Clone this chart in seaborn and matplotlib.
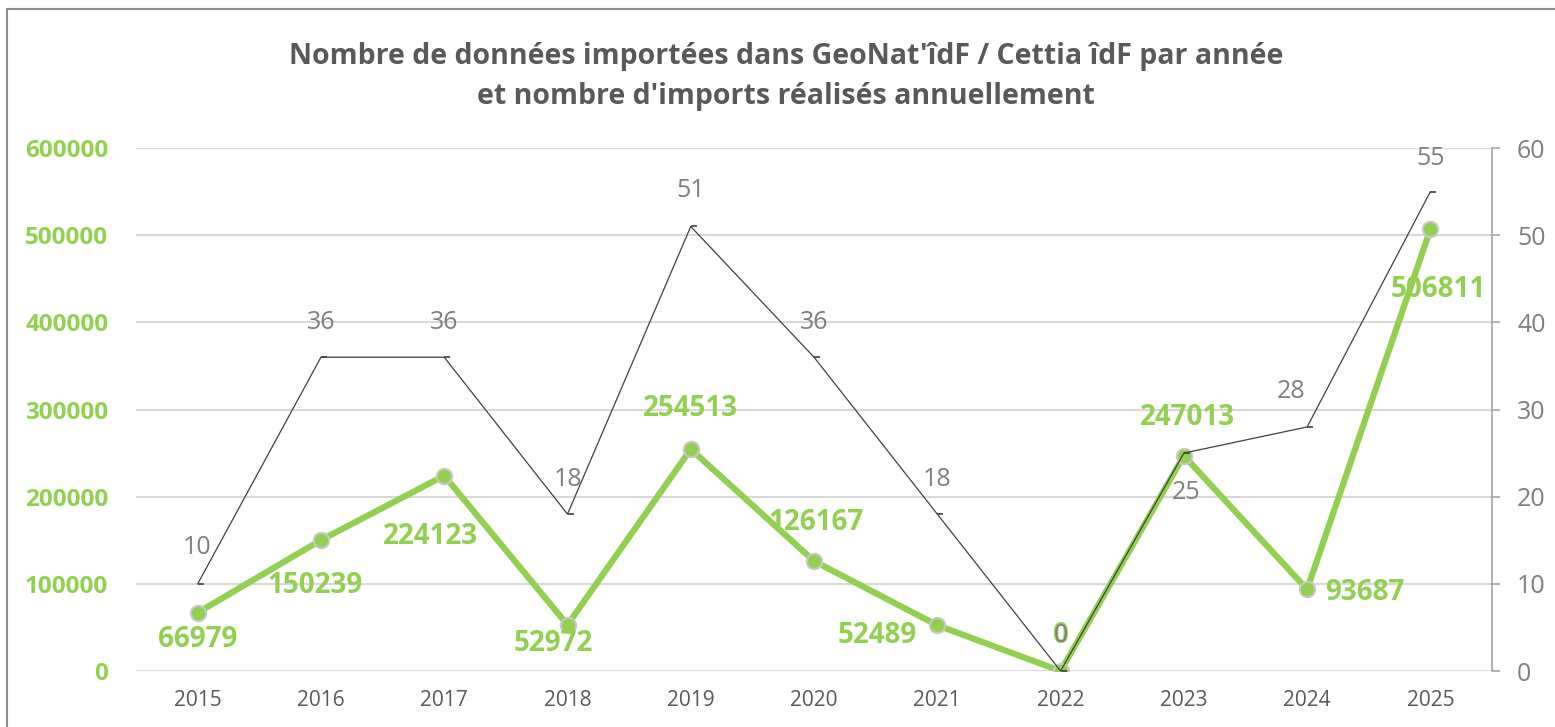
import numpy as np
import matplotlib.pyplot as plt
import pandas as pd
import seaborn as sns

years = [2015, 2016, 2017, 2018, 2019, 2020, 2021, 2022, 2023, 2024, 2025]
donnees = [66979, 150239, 224123, 52972, 254513, 126167, 52489, 0, 247013, 93687, 506811]
imports = [10, 36, 36, 18, 51, 36, 18, 0, 25, 28, 55]

title = ("Nombre de données importées dans GeoNat'îdF / Cettia îdF par année\n"
         "et nombre d'imports réalisés annuellement")

# label offsets in pixels (dx, dy), as placed in the original chart
green_offsets = [(0, -27), (-6, -45), (-14, -61), (-14, -19), (0, 41), (2, 39),
                 (-60, -10), (0, 36), (4, 38), (58, -3), (8, -60)]
grey_offsets = [(-1, 36), (0, 35), (0, 35), (0, 35), (0, 36), (0, 35),
                (0, 35), (0, 36), (2, -39), (-16, 35), (0, 33)]

GREEN = '#92D050'
GREY_TXT = '#7F7F7F'
DARK = '#595959'

sns.set_style('white')
plt.rcParams['font.family'] = ['Open Sans', 'DejaVu Sans']

df = pd.DataFrame({'annee': years, 'donnees': donnees, 'imports': imports})

fig = plt.figure(figsize=(15.55, 7.27), dpi=100)
ax = fig.add_axes([0.0875, 0.077, 0.872, 0.7194])
ax2 = ax.twinx()

# green line: number of records imported (left axis)
sns.lineplot(data=df, x='annee', y='donnees', ax=ax, color=GREEN, linewidth=4.5,
             marker='o', markersize=11, markerfacecolor=GREEN,
             markeredgecolor='#C8C8C8', markeredgewidth=1.5, zorder=3)
# thin line: number of imports (right axis), small dash marker to the right of each point
dash = [(0, 0), (1, 0)]
sns.lineplot(data=df, x='annee', y='imports', ax=ax2, color='#404040', linewidth=0.9,
             marker=dash, markersize=9, markeredgewidth=1.2, markeredgecolor='#404040',
             zorder=3)

ax.set_xlim(2014.5, 2025.5)
ax.set_ylim(0, 600000)
ax2.set_ylim(0, 60)
ax.set_xticks(years)
ax.set_xticklabels([str(y) for y in years])
ax.set_yticks(np.arange(0, 600001, 100000))
ax2.set_yticks(np.arange(0, 61, 10))
ax.set_xlabel('')
ax.set_ylabel('')
ax2.set_ylabel('')

ax.grid(axis='y', color='#D9D9D9', linewidth=1.5, zorder=0)
ax.set_axisbelow(True)
for a in (ax, ax2):
    for s in a.spines.values():
        s.set_visible(False)
ax2.spines['right'].set_visible(True)
ax2.spines['right'].set_color('#A6A6A6')
ax2.spines['right'].set_linewidth(1.2)

ax.tick_params(axis='y', length=0, pad=20, labelsize=17.5, labelcolor=GREEN)
for t in ax.get_yticklabels():
    t.set_fontweight('bold')
ax.tick_params(axis='x', length=0, pad=14, labelsize=15, labelcolor=DARK)
ax2.tick_params(axis='y', length=6, width=1.2, color='#A6A6A6', pad=12,
                labelsize=18, labelcolor=GREY_TXT)

for x, v, (dx, dy) in zip(years, donnees, green_offsets):
    ax.annotate(str(v), (x, v), xytext=(dx * 0.72, dy * 0.72), textcoords='offset points',
                ha='center', va='center', color=GREEN, fontsize=20, fontweight='bold',
                zorder=5)
for x, v, (dx, dy) in zip(years, imports, grey_offsets):
    ax2.annotate(str(v), (x, v), xytext=(dx * 0.72, dy * 0.72), textcoords='offset points',
                 ha='center', va='center', color=GREY_TXT, fontsize=18, zorder=5)

fig.text(0.5055, 0.895, title, ha='center', va='center', fontsize=20.5,
         fontweight='bold', color=DARK, linespacing=1.5)

# outer chart frame (top and left edges visible)
fig.add_artist(plt.Line2D([7 / 1555, 1], [1 - 9 / 727, 1 - 9 / 727],
                          transform=fig.transFigure, color='#8C8C8C', linewidth=1.5))
fig.add_artist(plt.Line2D([7 / 1555, 7 / 1555], [0, 1 - 9 / 727],
                          transform=fig.transFigure, color='#8C8C8C', linewidth=1.5))

fig.savefig('out.png', dpi=100, facecolor='white')
